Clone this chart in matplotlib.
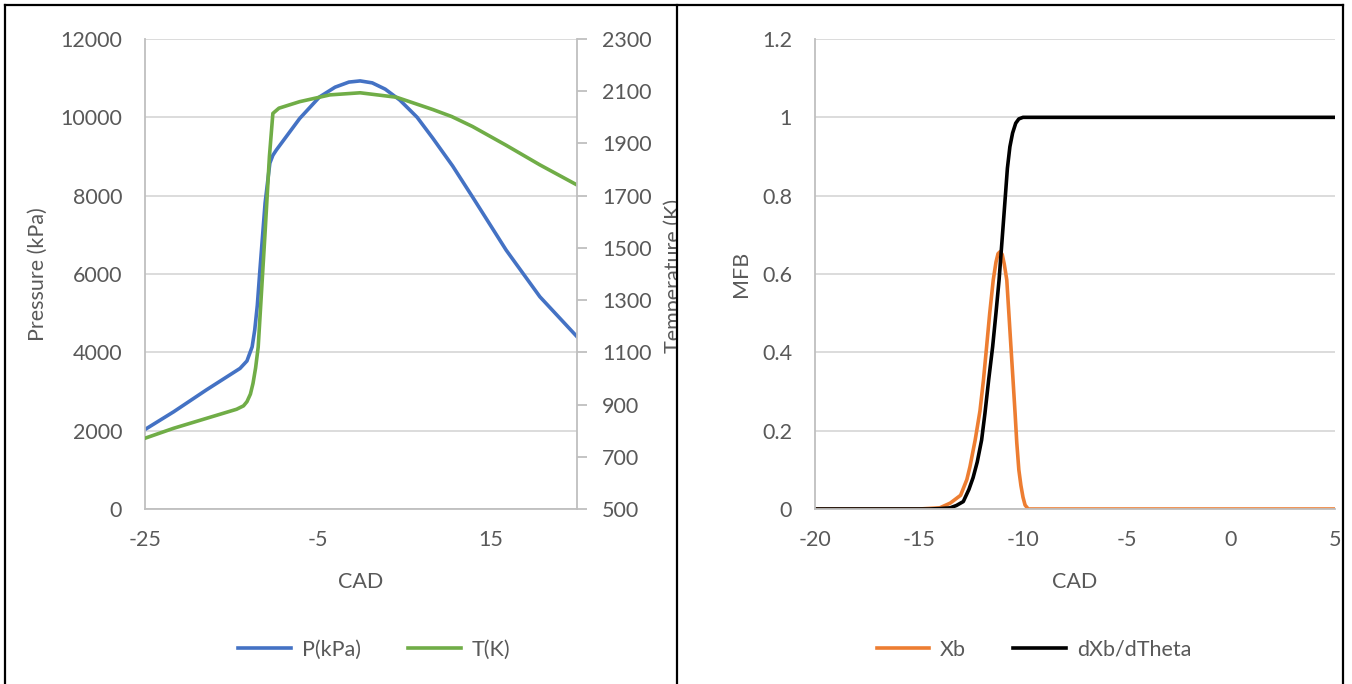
import matplotlib
matplotlib.use("Agg")
import matplotlib.pyplot as plt
from matplotlib.lines import Line2D
from matplotlib.transforms import Bbox, TransformedBbox

# %%
# data
cad_p = [-25, -21.7, -17.9, -14.0, -13.2, -12.6, -12.3, -12.0, -11.7, -11.1, -10.55,
         -10.2, -9.8, -7.1, -4.8, -3.0, -1.4, -0.1, 1.3, 2.8, 4.5, 6.5, 8.3, 10.6,
         12.9, 16.8, 20.7, 25]
pressure = [2030, 2480, 3040, 3590, 3780, 4140, 4570, 5200, 6100, 7810, 8830,
            9030, 9165, 9970, 10520, 10770, 10900, 10930, 10880, 10720, 10440, 10000, 9470, 8760,
            7970, 6610, 5420, 4400]

cad_t = [-25, -21.7, -17.9, -14.4, -13.6, -13.2, -12.8, -12.5, -12.2, -11.9, -11.5,
         -11.1, -10.6, -10.2, -9.5, -7.1, -3.6, -0.1, 4.1, 8.3, 10.5, 12.9, 16.8, 20.7, 25]
temperature = [771, 809, 847, 882, 895, 911, 940, 981, 1040, 1120, 1340,
               1560, 1850, 2015, 2035, 2060, 2086, 2094, 2077, 2030, 2003, 1965, 1893, 1818, 1741]

cad_xb = [-20, -15, -14, -13.5, -13.0, -12.7, -12.55, -12.3, -12.07, -11.9, -11.75, -11.6,
          -11.43, -11.3, -11.2, -11.1, -11.0, -10.9, -10.78, -10.68, -10.58, -10.48, -10.38,
          -10.3, -10.2, -10.1, -10.0, -9.9, -9.75, 5]
xb = [0, 0, 0.003, 0.015, 0.035, 0.075, 0.108, 0.176, 0.25, 0.33, 0.414, 0.5,
      0.585, 0.63, 0.652, 0.657, 0.65, 0.625, 0.585, 0.5, 0.414, 0.33, 0.244,
      0.17, 0.1, 0.06, 0.03, 0.01, 0, 0]

cad_dxb = [-20, -14.5, -14.0, -13.5, -13.2, -12.87, -12.6, -12.4, -12.2, -11.99, -11.83,
           -11.65, -11.46, -11.3, -11.15, -11.03, -10.91, -10.75, -10.63, -10.5, -10.35,
           -10.2, -10.0, 5]
dxb = [0, 0, 0.001, 0.003, 0.009, 0.019, 0.05, 0.08, 0.12, 0.176, 0.244,
       0.33, 0.414, 0.5, 0.585, 0.67, 0.755, 0.87, 0.925, 0.96, 0.985,
       0.996, 1.0, 1.0]

# %%
plt.rcParams["font.family"] = ["Lato", "DejaVu Sans"]
plt.rcParams["axes.unicode_minus"] = False
txt = "#595959"
grid = "#D9D9D9"
spine = "#BFBFBF"
fs = 15.5
lw = 2.6
W, H = 1352, 684

fig = plt.figure(figsize=(W / 100, H / 100), dpi=100)


def fx(px):
    return px / W


def fy(py):
    return 1 - py / H


def style(ax):
    ax.grid(axis="y", color=grid, lw=1.3)
    ax.set_axisbelow(True)
    for s in ["top", "right"]:
        ax.spines[s].set_visible(False)
    for s in ["left", "bottom"]:
        ax.spines[s].set_color(spine)
        ax.spines[s].set_linewidth(1.3)
    ax.tick_params(length=0, labelsize=fs, colors=txt)
    ax.tick_params(axis="x", pad=15)
    ax.tick_params(axis="y", pad=16.5)


# left panel
ax1 = fig.add_axes([fx(145), fy(509), fx(577 - 145), (509 - 39) / H])
style(ax1)
l1, = ax1.plot(cad_p, pressure, color="#4472C4", lw=lw, label="P(kPa)")
ax1.set_xlim(-25, 25)
ax1.set_ylim(0, 12000)
ax1.set_xticks([-25, -5, 15])
ax1.set_yticks(range(0, 12001, 2000))
ax1.set_xlabel("CAD", fontsize=fs, color=txt, labelpad=16)
ax1.set_ylabel("Pressure (kPa)", fontsize=fs, color=txt, labelpad=9)

ax2 = ax1.twinx()
l2, = ax2.plot(cad_t, temperature, color="#70AD47", lw=lw, label="T(K)")
ax2.set_ylim(500, 2300)
ax2.set_yticks(range(500, 2301, 200))
for s in ["top", "left", "bottom"]:
    ax2.spines[s].set_visible(False)
ax2.spines["right"].set_color(spine)
ax2.spines["right"].set_linewidth(1.3)
ax2.tick_params(axis="y", length=7, width=1.3, color=spine, labelsize=fs,
                labelcolor=txt, pad=11)

leg_kw = dict(loc="center", ncol=2, frameon=False, fontsize=fs, labelcolor=txt,
              handlelength=2.45, columnspacing=2.2, handletextpad=0.5)
fig.legend([l1, l2], ["P(kPa)", "T(K)"], bbox_to_anchor=(fx(374), fy(650)), **leg_kw)

# temperature label, cut by the right panel like in the original
tl = fig.text(fx(663), fy(276), "Temperature (K)", rotation=90, ha="left", va="center",
              fontsize=fs, color=txt)
tl.set_clip_box(TransformedBbox(Bbox([[0, 0], [676 / W, 1]]), fig.transFigure))
tl.set_clip_on(True)

# right panel
ax3 = fig.add_axes([fx(815), fy(509), fx(1335 - 815), (509 - 39) / H])
style(ax3)
l3, = ax3.plot(cad_xb, xb, color="#ED7D31", lw=lw, label="Xb")
l4, = ax3.plot(cad_dxb, dxb, color="black", lw=lw, label="dXb/dTheta")
ax3.set_xlim(-20, 5)
ax3.set_ylim(0, 1.2)
ax3.set_xticks([-20, -15, -10, -5, 0, 5])
ax3.set_yticks([0, 0.2, 0.4, 0.6, 0.8, 1, 1.2])
ax3.set_yticklabels(["0", "0.2", "0.4", "0.6", "0.8", "1", "1.2"])
ax3.set_xlabel("CAD", fontsize=fs, color=txt, labelpad=16)
ax3.set_ylabel("MFB", fontsize=fs, color=txt, labelpad=8)

fig.legend([l3, l4], ["Xb", "dXb/dTheta"], bbox_to_anchor=(fx(1034), fy(650)), **leg_kw)

# outer frame and divider
for xs, ys in [([5, 1343], [5, 5]), ([5, 5], [5, 684]), ([1343, 1343], [5, 684]),
               ([677, 677], [5, 684])]:
    fig.add_artist(Line2D([fx(x) for x in xs], [fy(y) for y in ys], color="black", lw=1.6))

fig.savefig("out.png", dpi=100)
